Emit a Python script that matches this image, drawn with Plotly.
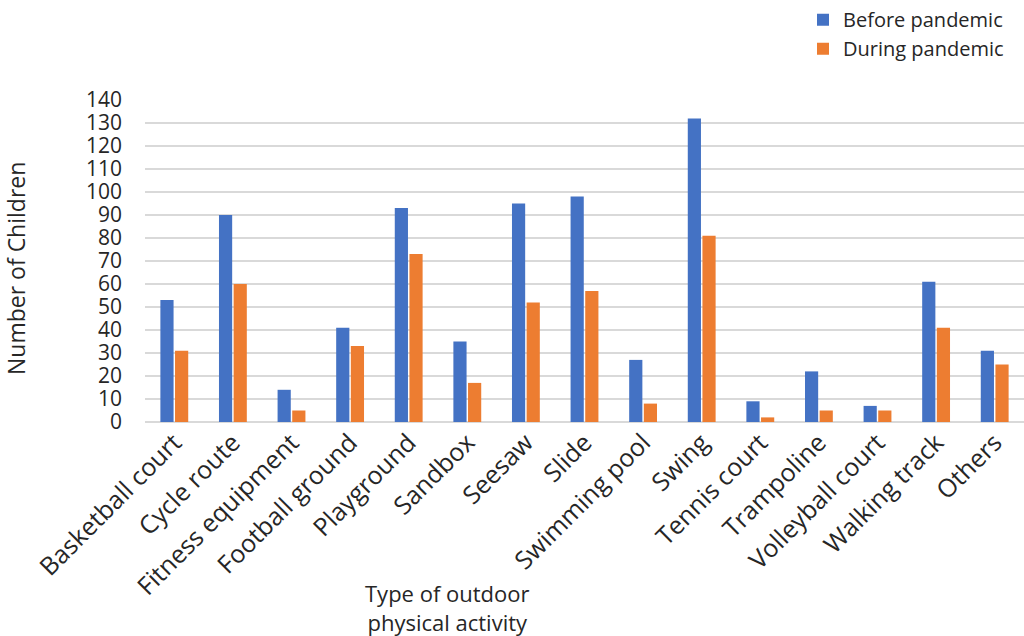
import plotly.graph_objects as go

categories = ["Basketball court", "Cycle route", "Fitness equipment", "Football ground",
              "Playground", "Sandbox", "Seesaw", "Slide", "Swimming pool", "Swing",
              "Tennis court", "Trampoline", "Volleyball court", "Walking track", "Others"]
before_pandemic = [53, 90, 14, 41, 93, 35, 95, 98, 27, 132, 9, 22, 7, 61, 31]
during_pandemic = [31, 60, 5, 33, 73, 17, 52, 57, 8, 81, 2, 5, 5, 41, 25]
y_ticks = list(range(0, 150, 10))

FONT = "Open Sans"
TEXT = "#262626"

fig = go.Figure()
fig.add_trace(go.Bar(x=categories, y=before_pandemic, name="Before pandemic",
                     marker=dict(color="#4472C4", line=dict(width=0))))
fig.add_trace(go.Bar(x=categories, y=during_pandemic, name="During pandemic",
                     marker=dict(color="#ED7D31", line=dict(width=0))))

fig.update_layout(
    width=1024, height=636,
    margin=dict(l=145, r=0, t=100, b=214),
    plot_bgcolor="white", paper_bgcolor="white",
    barmode="group", bargap=0.5, bargroupgap=0.1,
    font=dict(family=FONT, color=TEXT),
    legend=dict(x=(803 - 145) / 879, y=1.31, xanchor="left", yanchor="top",
                font=dict(size=20, color=TEXT), bgcolor="rgba(0,0,0,0)",
                itemwidth=30, tracegroupgap=2),
    xaxis=dict(tickangle=-45, tickfont=dict(size=25, color=TEXT),
               showgrid=False, showline=False, ticks="", automargin=False),
    yaxis=dict(range=[0, 140], tickvals=y_ticks, tickfont=dict(size=21, color=TEXT),
               showgrid=True, gridcolor="#D9D9D9", gridwidth=1.5,
               zeroline=True, zerolinecolor="#D9D9D9", zerolinewidth=1.5,
               ticks="", ticklabelstandoff=22, automargin=False),
    annotations=[
        dict(text="Type of outdoor<br>physical activity", xref="paper", yref="paper",
             x=(447 - 145) / 879, y=(422 - 607) / 322, xanchor="center", yanchor="middle",
             showarrow=False, font=dict(size=22, color=TEXT)),
        dict(text="Number of Children", xref="paper", yref="paper",
             x=(16 - 145) / 879, y=(422 - 269) / 322, xanchor="center", yanchor="middle",
             textangle=-90, showarrow=False, font=dict(size=23, color=TEXT)),
    ],
)

fig.write_html("out.html")
